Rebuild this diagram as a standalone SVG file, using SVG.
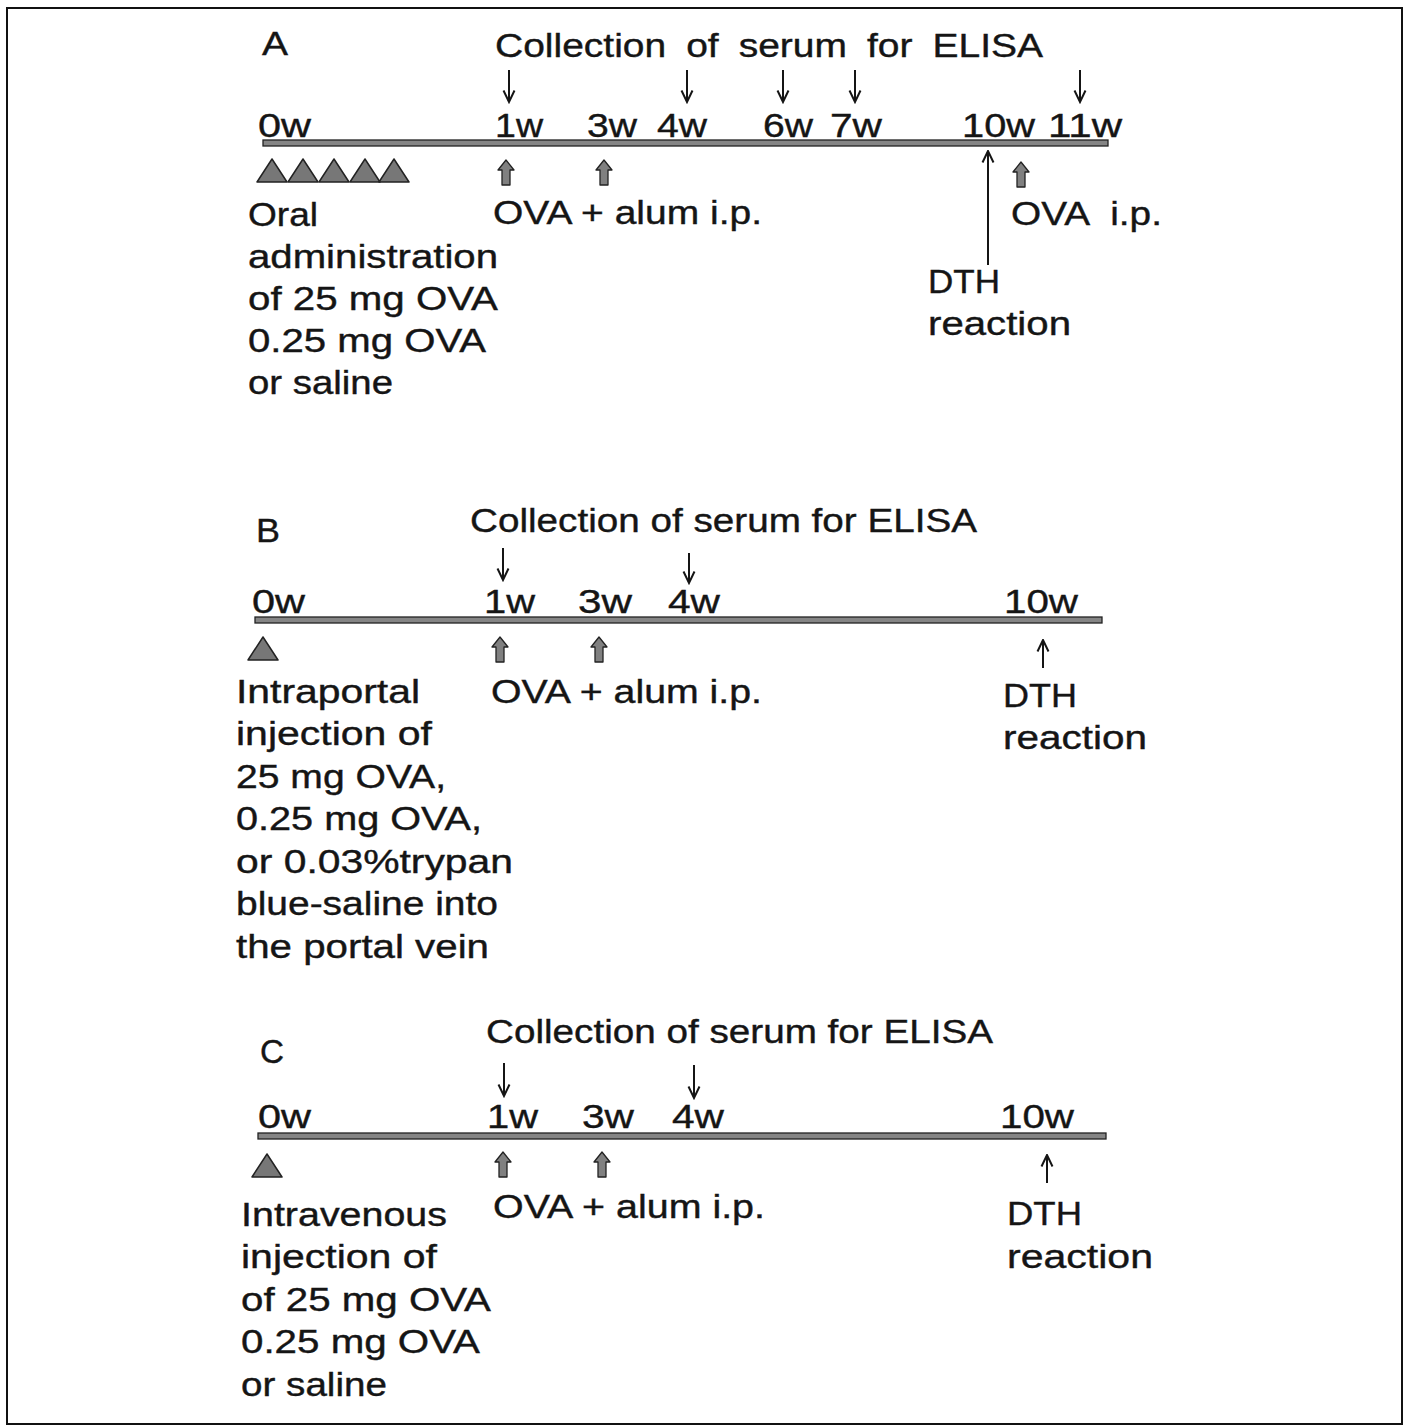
<svg xmlns="http://www.w3.org/2000/svg" width="1409" height="1425" viewBox="0 0 1409 1425">
<style>
text{font-family:"Liberation Sans",Arial,sans-serif;font-size:34px;fill:#151515;stroke:#151515;stroke-width:0.4}
.tl{fill:#858585;stroke:#222;stroke-width:1.3}
.tri{fill:#777;stroke:#222;stroke-width:1.5;stroke-linejoin:round}
.thick{fill:#808080;stroke:#222;stroke-width:1.3;stroke-linejoin:round}
.thin{fill:none;stroke:#151515;stroke-width:2;marker-end:url(#vh)}
</style>
<defs>
<marker id="vh" markerUnits="userSpaceOnUse" markerWidth="14" markerHeight="14" refX="12.5" refY="7" orient="auto" viewBox="0 0 14 14">
<path d="M1,1.5 L12.5,7 L1,12.5" fill="none" stroke="#151515" stroke-width="2"/>
</marker>
<path id="blk" d="M0,0 L8,10 L4,10 L4,25 L-4,25 L-4,10 L-8,10 Z"/>
<path id="tr" d="M0,23 L15,0 L30,23 Z"/>
</defs>
<rect x="7" y="8" width="1395" height="1416" fill="#fff" stroke="#111" stroke-width="2"/>

<g id="panelA">
<text x="262" y="55" textLength="26" lengthAdjust="spacingAndGlyphs">A</text>
<text x="495" y="57" textLength="548" lengthAdjust="spacingAndGlyphs" word-spacing="8">Collection of serum for ELISA</text>
<rect class="tl" x="263" y="140" width="845" height="6"/>
<g id="A-ticks">
<text x="258" y="137" textLength="53" lengthAdjust="spacingAndGlyphs">0w</text>
<text x="495" y="137" textLength="48" lengthAdjust="spacingAndGlyphs">1w</text>
<text x="587" y="137" textLength="50" lengthAdjust="spacingAndGlyphs">3w</text>
<text x="657" y="137" textLength="50" lengthAdjust="spacingAndGlyphs">4w</text>
<text x="763" y="137" textLength="50" lengthAdjust="spacingAndGlyphs">6w</text>
<text x="830" y="137" textLength="52" lengthAdjust="spacingAndGlyphs">7w</text>
<text x="962" y="137" textLength="73" lengthAdjust="spacingAndGlyphs">10w</text>
<text x="1048" y="137" textLength="74" lengthAdjust="spacingAndGlyphs">11w</text>
</g>
<g id="A-oral">
<use href="#tr" class="tri" x="257" y="159"/>
<use href="#tr" class="tri" x="288" y="159"/>
<use href="#tr" class="tri" x="319" y="159"/>
<use href="#tr" class="tri" x="350" y="159"/>
<use href="#tr" class="tri" x="379" y="159"/>
<text x="248" y="226" textLength="70" lengthAdjust="spacingAndGlyphs">Oral</text>
<text x="248" y="268" textLength="250" lengthAdjust="spacingAndGlyphs">administration</text>
<text x="248" y="310" textLength="250" lengthAdjust="spacingAndGlyphs">of 25 mg OVA</text>
<text x="248" y="352" textLength="238" lengthAdjust="spacingAndGlyphs">0.25 mg OVA</text>
<text x="248" y="394" textLength="145" lengthAdjust="spacingAndGlyphs">or saline</text>
</g>
<text id="A-alum" x="493" y="224" textLength="269" lengthAdjust="spacingAndGlyphs">OVA + alum i.p.</text>
<text id="A-ova" x="1011" y="225" textLength="151" lengthAdjust="spacingAndGlyphs" word-spacing="10">OVA i.p.</text>
<g id="A-dth">
<text x="928" y="293" textLength="72" lengthAdjust="spacingAndGlyphs">DTH</text>
<text x="928" y="335" textLength="143" lengthAdjust="spacingAndGlyphs">reaction</text>
</g>
</g>

<g id="panelB">
<text x="256" y="542" textLength="24" lengthAdjust="spacingAndGlyphs">B</text>
<text x="470" y="532" textLength="507" lengthAdjust="spacingAndGlyphs">Collection of serum for ELISA</text>
<rect class="tl" x="255" y="617" width="847" height="6"/>
<g id="B-ticks">
<text x="252" y="613" textLength="53" lengthAdjust="spacingAndGlyphs">0w</text>
<text x="484" y="613" textLength="51" lengthAdjust="spacingAndGlyphs">1w</text>
<text x="578" y="613" textLength="54" lengthAdjust="spacingAndGlyphs">3w</text>
<text x="668" y="613" textLength="52" lengthAdjust="spacingAndGlyphs">4w</text>
<text x="1004" y="613" textLength="74" lengthAdjust="spacingAndGlyphs">10w</text>
</g>
<g id="B-inj">
<use href="#tr" class="tri" x="248" y="637"/>
<text x="236" y="703" textLength="184" lengthAdjust="spacingAndGlyphs">Intraportal</text>
<text x="236" y="745" textLength="196" lengthAdjust="spacingAndGlyphs">injection of</text>
<text x="236" y="788" textLength="210" lengthAdjust="spacingAndGlyphs">25 mg OVA,</text>
<text x="236" y="830" textLength="246" lengthAdjust="spacingAndGlyphs">0.25 mg OVA,</text>
<text x="236" y="873" textLength="277" lengthAdjust="spacingAndGlyphs">or 0.03%trypan</text>
<text x="236" y="915" textLength="262" lengthAdjust="spacingAndGlyphs">blue-saline into</text>
<text x="236" y="958" textLength="253" lengthAdjust="spacingAndGlyphs">the portal vein</text>
</g>
<text id="B-alum" x="491" y="703" textLength="271" lengthAdjust="spacingAndGlyphs">OVA + alum i.p.</text>
<g id="B-dth">
<text x="1003" y="707" textLength="74" lengthAdjust="spacingAndGlyphs">DTH</text>
<text x="1003" y="749" textLength="144" lengthAdjust="spacingAndGlyphs">reaction</text>
</g>
</g>

<g id="panelC">
<text x="260" y="1063" textLength="24" lengthAdjust="spacingAndGlyphs">C</text>
<text x="486" y="1043" textLength="507" lengthAdjust="spacingAndGlyphs">Collection of serum for ELISA</text>
<rect class="tl" x="258" y="1133" width="848" height="6"/>
<g id="C-ticks">
<text x="258" y="1128" textLength="53" lengthAdjust="spacingAndGlyphs">0w</text>
<text x="487" y="1128" textLength="51" lengthAdjust="spacingAndGlyphs">1w</text>
<text x="582" y="1128" textLength="52" lengthAdjust="spacingAndGlyphs">3w</text>
<text x="672" y="1128" textLength="52" lengthAdjust="spacingAndGlyphs">4w</text>
<text x="1000" y="1128" textLength="74" lengthAdjust="spacingAndGlyphs">10w</text>
</g>
<g id="C-inj">
<use href="#tr" class="tri" x="252" y="1154"/>
<text x="241" y="1226" textLength="206" lengthAdjust="spacingAndGlyphs">Intravenous</text>
<text x="241" y="1268" textLength="196" lengthAdjust="spacingAndGlyphs">injection of</text>
<text x="241" y="1311" textLength="250" lengthAdjust="spacingAndGlyphs">of 25 mg OVA</text>
<text x="241" y="1353" textLength="239" lengthAdjust="spacingAndGlyphs">0.25 mg OVA</text>
<text x="241" y="1396" textLength="146" lengthAdjust="spacingAndGlyphs">or saline</text>
</g>
<text id="C-alum" x="493" y="1218" textLength="272" lengthAdjust="spacingAndGlyphs">OVA + alum i.p.</text>
<g id="C-dth">
<text x="1007" y="1225" textLength="75" lengthAdjust="spacingAndGlyphs">DTH</text>
<text x="1007" y="1268" textLength="146" lengthAdjust="spacingAndGlyphs">reaction</text>
</g>
</g>

<g id="connectors">
<path class="thin" d="M509,70 V102"/>
<path class="thin" d="M687,70 V102"/>
<path class="thin" d="M783,70 V102"/>
<path class="thin" d="M855,70 V102"/>
<path class="thin" d="M1080,70 V102"/>
<path class="thin" d="M988,265 V151"/>
<use href="#blk" class="thick" x="506" y="160"/>
<use href="#blk" class="thick" x="604" y="160"/>
<use href="#blk" class="thick" x="1021" y="162"/>

<path class="thin" d="M503,548 V580"/>
<path class="thin" d="M689,553 V583"/>
<path class="thin" d="M1043,668 V640"/>
<use href="#blk" class="thick" x="500" y="637"/>
<use href="#blk" class="thick" x="599" y="637"/>

<path class="thin" d="M504,1063 V1096"/>
<path class="thin" d="M694,1065 V1098"/>
<path class="thin" d="M1047,1183 V1155"/>
<use href="#blk" class="thick" x="503" y="1152"/>
<use href="#blk" class="thick" x="602" y="1152"/>
</g>
</svg>
